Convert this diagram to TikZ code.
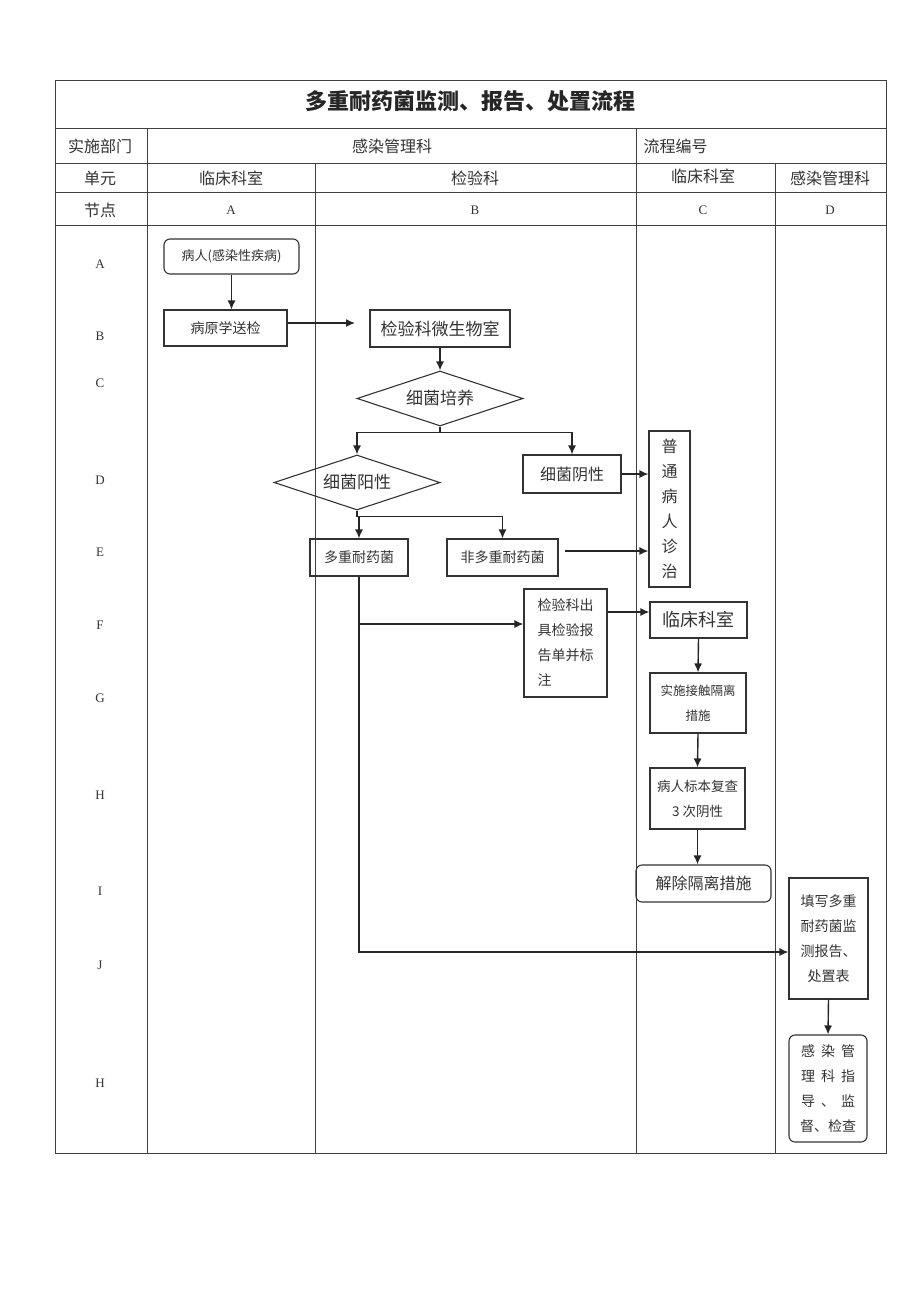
\documentclass[tikz,border=0pt]{standalone}
\usepackage{fontspec}
\setmainfont{Liberation Serif}
\newfontfamily\cjk{Noto Sans CJK SC}
\newcommand\cjksize[1]{\cjk\fontsize{#1}{25}\selectfont}
\usetikzlibrary{shapes.geometric,arrows.meta}

\begin{document}
\begin{tikzpicture}[x=1pt,y=-1pt,>={Latex[length=9pt,width=8pt]},
  grid/.style={line width=0.8pt,draw=black!75},
  box/.style={draw=black!80,line width=1.1pt,inner sep=0pt,align=center,text=black!80},
  rbox/.style={box,rounded corners=6pt},
  dia/.style={box,diamond,aspect=3},
  flow/.style={->,line width=1.4pt,draw=black!85},
  head/.style={font=\cjksize{16},text=black!80},
  tag/.style={font=\fontsize{13}{15}\selectfont,text=black!80}]
  \useasboundingbox (0,0) rectangle (920,1301);
  \draw[grid] (55,80) rectangle (886,1153);
  \foreach \y in {128,163,192,225}
    \draw[grid] (55,\y) -- (886,\y);
  \draw[grid] (147,128) -- (147,1153);
  \draw[grid] (636,128) -- (636,1153);
  \draw[grid] (315,163) -- (315,1153);
  \draw[grid] (775,163) -- (775,1153);

  \node[text=black!85,font=\cjk\fontsize{22}{26}\selectfont\bfseries] (title) at (470,101) {多重耐药菌监测、报告、处置流程};
  \node[head] (dept) at (100,146) {实施部门};
  \node[head] (deptname) at (392,146) {感染管理科};
  \node[head,anchor=west] (code) at (640,146) {流程编号};
  \node[head] (unit) at (100,178) {单元};
  \node[head] (unita) at (231,178) {临床科室};
  \node[head] (unitb) at (475,178) {检验科};
  \node[head] (unitc) at (703,176) {临床科室};
  \node[head] (unitd) at (830,178) {感染管理科};
  \node[head] (step) at (100,210) {节点};
  \foreach \x/\t in {231/A,475/B,703/C,830/D}
    \node[tag] (col\t) at (\x,210) {\t};
  \foreach \y/\t/\n in {264/A/1,336/B/2,383/C/3,480/D/4,552/E/5,625/F/6,698/G/7,795/H/8,891/I/9,965/J/10,1083/H/11}
    \node[tag] (row\n) at (100,\y) {\t};

  \node[rbox,minimum width=135pt,minimum height=35pt,font=\cjksize{13}] (patient) at (231.5,256.5) {病人(感染性疾病)};
  \node[box,minimum width=123pt,minimum height=36pt,font=\cjksize{14}] (send) at (225.5,328) {病原学送检};
  \node[box,minimum width=140pt,minimum height=37pt,font=\cjksize{17}] (micro) at (440,328.5) {检验科微生物室};
  \node[dia,minimum width=166pt,minimum height=55pt,font=\cjksize{17}] (culture) at (440,398.5) {细菌培养};
  \node[dia,minimum width=166pt,minimum height=55pt,font=\cjksize{17}] (pos) at (357,482.5) {细菌阳性};
  \node[box,minimum width=98pt,minimum height=38pt,font=\cjksize{16}] (neg) at (572,474) {细菌阴性};
  \node[box,minimum width=41pt,minimum height=156pt,font=\cjksize{16}] (common) at (669.5,509) {普\\通\\病\\人\\诊\\治};
  \node[box,minimum width=98pt,minimum height=37pt,font=\cjksize{14}] (mdr) at (359,557.5) {多重耐药菌};
  \node[box,minimum width=111pt,minimum height=37pt,font=\cjksize{14}] (nonmdr) at (502.5,557.5) {非多重耐药菌};
  \node[box,minimum width=83pt,minimum height=108pt,align=left,font=\cjksize{14}] (report) at (565.5,643) {检验科出\\具检验报\\告单并标\\注};
  \node[box,minimum width=97pt,minimum height=36pt,font=\cjksize{18}] (clinic) at (698.5,620) {临床科室};
  \node[box,minimum width=96pt,minimum height=60pt,font=\cjksize{12.5}] (isolate) at (698,703) {实施接触隔离\\措施};
  \node[box,minimum width=95pt,minimum height=61pt,font=\cjksize{13.5}] (recheck) at (697.5,798.5) {病人标本复查\\3 次阴性};
  \node[rbox,minimum width=135pt,minimum height=37pt,font=\cjksize{16}] (lift) at (703.5,883.5) {解除隔离措施};
  \node[box,minimum width=79pt,minimum height=121pt,font=\cjksize{14}] (fill) at (828.5,938.5) {填写多重\\耐药菌监\\测报告、\\处置表};
  \node[rbox,minimum width=78pt,minimum height=107pt,font=\cjksize{14}] (guide) at (828,1088.5) {感\hspace{6pt}染\hspace{6pt}管\\理\hspace{6pt}科\hspace{6pt}指\\导\hspace{6pt}、\hspace{6pt}监\\督、检查};

  \coordinate (sendend) at (355,323);
  \coordinate (nonend) at (565,551);
  \coordinate (frow) at (0,624);
  \coordinate (jrow) at (0,952);
  \draw[flow] (patient.south) -- (patient.south |- send.north);
  \draw[flow] (send.east |- sendend) -- (sendend);
  \draw[flow] (micro.south) -- (culture.north);
  \draw[flow] (culture.south) -- ++(0,6) -| (pos.north);
  \draw[flow] (culture.south) -- ++(0,6) -| (neg.north);
  \draw[flow] (neg.east) -- (neg.east -| common.west);
  \draw[flow] (pos.south) -- ++(0,6) -| (mdr.north);
  \draw[flow] (pos.south) -- ++(0,6) -| (nonmdr.north);
  \draw[flow] (nonend) -- (nonend -| common.west);
  \draw[flow] (mdr.south |- frow) -- (frow -| report.west);
  \draw[flow] (mdr.south) -- (mdr.south |- jrow) -- (jrow -| fill.west);
  \draw[flow] (report.east |- 0,612) -- (clinic.west |- 0,612);
  \draw[flow] (clinic.south) -- (isolate.north);
  \draw[flow] (isolate.south) -- (recheck.north);
  \draw[flow] (recheck.south) -- (recheck.south |- lift.north);
  \draw[flow] (fill.south) -- (guide.north);
\end{tikzpicture}
\end{document}
